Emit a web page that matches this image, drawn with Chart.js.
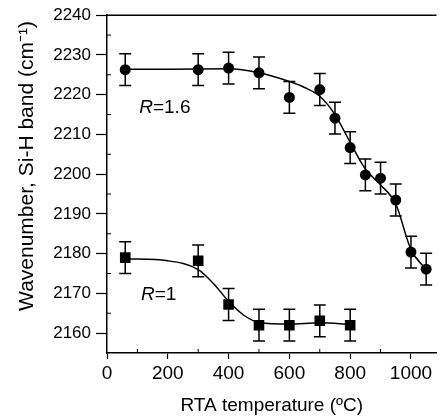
<!DOCTYPE html>
<html>
<head>
<meta charset="utf-8">
<script src="https://cdn.jsdelivr.net/npm/chart.js@4.4.1/dist/chart.umd.min.js"></script>
<style>
  html, body { margin: 0; padding: 0; background: #fff; }
  #wrap { width: 444px; height: 417px; }
</style>
</head>
<body>
<div id="wrap"><canvas id="chart" width="444" height="417"></canvas></div>
<script>
// R = 1.6 (circles)
const tempR16 = [60, 300, 400, 500, 600, 700, 750, 800, 850, 900, 950, 1000, 1050];
const waveR16 = [2226.3, 2226.3, 2226.7, 2225.5, 2219.3, 2221.3, 2214.1, 2206.7, 2199.8, 2199.0, 2193.5, 2180.4, 2176.1];
const errR16  = [4, 4, 4, 4, 4, 4, 4, 4, 4, 4, 4, 4, 4];

// R = 1 (squares)
const tempR1 = [60, 300, 400, 500, 600, 700, 800];
const waveR1 = [2179.0, 2178.2, 2167.2, 2162.0, 2162.0, 2163.1, 2162.0];
const errR1  = [4, 4, 4, 4, 4, 4, 4];

// fitted curves
const fitR16X = [60, 200, 400, 500, 600, 650, 700, 750, 800, 850, 900, 950, 1000, 1050];
const fitR16Y = [2226.4, 2226.4, 2226.5, 2225.5, 2223.3, 2221.8, 2219.6, 2215.0, 2208.0, 2201.3, 2197.3, 2192.5, 2181.0, 2176.0];
const fitR1X = [60, 200, 300, 350, 400, 450, 500, 600, 700, 800];
const fitR1Y = [2178.7, 2178.2, 2176.0, 2172.5, 2168.0, 2164.5, 2162.7, 2162.3, 2162.6, 2162.2];

// axis ticks
const xTicks = [0, 200, 400, 600, 800, 1000];
const xMinor = [100, 300, 500, 700, 900];
const yTicks = [2160, 2170, 2180, 2190, 2200, 2210, 2220, 2230, 2240];
const yMinor = [2165, 2175, 2185, 2195, 2205, 2215, 2225, 2235];

const FONT = "'Liberation Sans', Arial, sans-serif";
Chart.defaults.font.family = FONT;
Chart.defaults.color = '#000';

const toPoints = (xs, ys) => xs.map((x, i) => ({ x: x, y: ys[i] }));

// error bars, minor ticks, top frame line, labels
const extras = {
  id: 'extras',
  beforeDatasetsDraw(chart) {
    const ctx = chart.ctx;
    const ys = chart.scales.y;
    ctx.save();
    ctx.strokeStyle = '#000';
    ctx.lineWidth = 1.5;
    chart.data.datasets.forEach((ds, i) => {
      if (!ds.errors) return;
      const meta = chart.getDatasetMeta(i);
      meta.data.forEach((el, j) => {
        const v = ds.data[j].y;
        const top = ys.getPixelForValue(v + ds.errors[j]);
        const bot = ys.getPixelForValue(v - ds.errors[j]);
        ctx.beginPath();
        ctx.moveTo(el.x, top); ctx.lineTo(el.x, bot);
        ctx.moveTo(el.x - 6, top); ctx.lineTo(el.x + 6, top);
        ctx.moveTo(el.x - 6, bot); ctx.lineTo(el.x + 6, bot);
        ctx.stroke();
      });
    });
    ctx.restore();
  },
  afterDraw(chart) {
    const ctx = chart.ctx;
    const { left, right, top, bottom } = chart.chartArea;
    const xs = chart.scales.x, ys = chart.scales.y;
    ctx.save();
    ctx.strokeStyle = '#000';
    ctx.lineWidth = 1.5;
    ctx.beginPath();
    ctx.moveTo(left, top); ctx.lineTo(right, top);
    ctx.stroke();
    ctx.lineWidth = 1;
    ctx.beginPath();
    xMinor.forEach(v => {
      const px = xs.getPixelForValue(v);
      ctx.moveTo(px, bottom); ctx.lineTo(px, bottom - 4);
    });
    yMinor.forEach(v => {
      const py = ys.getPixelForValue(v);
      ctx.moveTo(left, py); ctx.lineTo(left + 4, py);
    });
    ctx.stroke();

    // y axis title
    ctx.fillStyle = '#000';
    ctx.font = '21px ' + FONT;
    ctx.textAlign = 'center';
    ctx.textBaseline = 'middle';
    ctx.translate(27, 166);
    ctx.rotate(-Math.PI / 2);
    ctx.fillText('Wavenumber, Si-H band (cm\u207B\u00B9)', 0, 0);
    ctx.restore();

    // series labels
    const drawLabel = (xv, yv, rest) => {
      const px = xs.getPixelForValue(xv), py = ys.getPixelForValue(yv);
      ctx.save();
      ctx.fillStyle = '#000';
      ctx.textBaseline = 'alphabetic';
      ctx.textAlign = 'left';
      ctx.font = 'italic 19px ' + FONT;
      ctx.fillText('R', px, py);
      const w = ctx.measureText('R').width;
      ctx.font = '19px ' + FONT;
      ctx.fillText(rest, px + w, py);
      ctx.restore();
    };
    drawLabel(106, 2215.3, '=1.6');
    drawLabel(112, 2168.3, '=1');
  }
};

new Chart(document.getElementById('chart'), {
  type: 'scatter',
  data: {
    datasets: [
      {
        type: 'line', data: toPoints(fitR16X, fitR16Y),
        borderColor: '#000', borderWidth: 1.5, pointRadius: 0,
        cubicInterpolationMode: 'monotone', fill: false
      },
      {
        type: 'line', data: toPoints(fitR1X, fitR1Y),
        borderColor: '#000', borderWidth: 1.5, pointRadius: 0,
        cubicInterpolationMode: 'monotone', fill: false
      },
      {
        data: toPoints(tempR16, waveR16), errors: errR16,
        pointStyle: 'circle', pointRadius: 5.5,
        backgroundColor: '#000', borderColor: '#000', borderWidth: 0
      },
      {
        data: toPoints(tempR1, waveR1), errors: errR1,
        pointStyle: 'rect', pointRadius: 7.5,
        backgroundColor: '#000', borderColor: '#000', borderWidth: 0
      }
    ]
  },
  options: {
    responsive: false,
    animation: false,
    layout: { padding: { top: 15, left: 0, right: 0, bottom: 0 } },
    plugins: { legend: { display: false }, tooltip: { enabled: false } },
    scales: {
      x: {
        type: 'linear', min: 0, max: 1084,
        afterBuildTicks: s => { s.ticks = xTicks.map(v => ({ value: v })); },
        afterFit: s => { s.height = 64; },
        border: { color: '#000', width: 1.5 },
        grid: { drawOnChartArea: false, tickLength: 6, tickColor: '#000', tickWidth: 1.2 },
        ticks: { font: { size: 19 }, color: '#000', padding: 3, maxRotation: 0, callback: v => String(v) },
        title: { display: true, text: 'RTA temperature (ºC)', font: { size: 19 }, color: '#000', padding: { top: 0, bottom: 0 } }
      },
      y: {
        type: 'linear', min: 2155, max: 2240,
        afterBuildTicks: s => { s.ticks = yTicks.map(v => ({ value: v })); },
        afterFit: s => { s.width = 107; },
        border: { color: '#000', width: 1.5 },
        grid: { drawOnChartArea: false, tickLength: 11, tickColor: '#000', tickWidth: 1.2 },
        ticks: { font: { size: 17 }, color: '#000', padding: 5, callback: v => String(v) }
      }
    }
  },
  plugins: [extras]
});
</script>
</body>
</html>
